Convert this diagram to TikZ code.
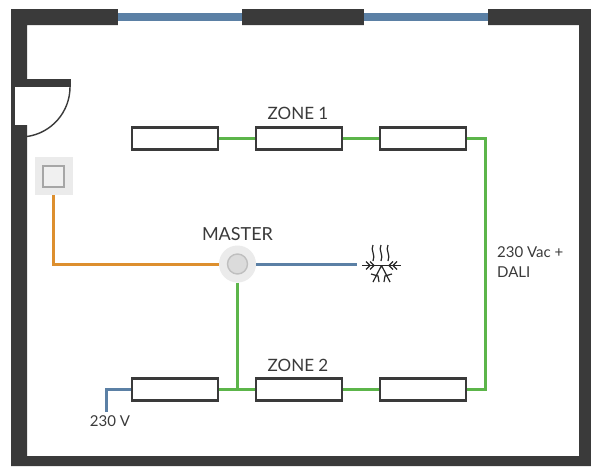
\documentclass[tikz,border=0pt]{standalone}
\usepackage{fontspec}
\setmainfont{Lato}
\definecolor{wallgrey}{HTML}{3A3A3A}
\definecolor{wireblue}{HTML}{5B80A5}
\definecolor{wiregreen}{HTML}{5CB54A}
\definecolor{wireorange}{HTML}{DD8F2E}
\tikzset{
    lamp/.style={rectangle, draw=wallgrey, fill=white, line width=2.2pt, minimum width=86pt, minimum height=22pt, inner sep=0pt},
    wire/.style={line width=3pt},
    label/.style={text=wallgrey, font=\fontsize{17}{20}\selectfont, inner sep=0pt},
    smalllabel/.style={text=wallgrey, font=\fontsize{15}{20}\selectfont, inner sep=0pt},
    frost/.style={line width=1.2pt, black!85},
}
\begin{document}
\begin{tikzpicture}[x=1pt, y=-1pt]
    \useasboundingbox (0, 0) rectangle (591, 466);
    \fill[white] (0, 0) rectangle (591, 466);
    % walls
    \fill[wallgrey, even odd rule] (11, 9) rectangle (591, 466) (27, 25) rectangle (579, 456);
    % windows
    \fill[white] (118, 8) rectangle (242, 26);
    \fill[white] (364, 8) rectangle (488, 26);
    \fill[wireblue] (118, 13) rectangle (242, 21);
    \fill[wireblue] (364, 13) rectangle (488, 21);
    % door
    \fill[white] (15, 87) rectangle (27.5, 125);
    \fill[wallgrey] (15, 79) rectangle (71, 87);
    \draw[wallgrey, line width=1.4pt] (70, 87) arc[start angle=0, end angle=82, radius=50];
    % switch
    \node[rectangle, fill=black!8, minimum size=38pt, inner sep=0pt] (switch) at (53.5, 176) {};
    \node[rectangle, draw=black!35, fill=black!6, line width=2pt, minimum size=21pt, inner sep=0pt] (switchkey) at (53.5, 176) {};
    % master
    \node[circle, fill=black!8, minimum size=37pt, inner sep=0pt] (master) at (237.5, 264) {};
    \node[circle, draw=black!25, fill=black!14, line width=1.4pt, minimum size=20pt, inner sep=0pt] (masterkey) at (237.5, 264) {};
    % lamps
    \node[lamp] (zoneAa) at (175, 138.5) {};
    \node[lamp] (zoneAb) at (299, 138.5) {};
    \node[lamp] (zoneAc) at (423, 138.5) {};
    \node[lamp] (zoneBa) at (175, 389.5) {};
    \node[lamp] (zoneBb) at (299, 389.5) {};
    \node[lamp] (zoneBc) at (423, 389.5) {};
    \coordinate (bend) at (485, 264);
    \coordinate (tee) at (237.5, 389.5);
    \coordinate (hvac) at (357, 264);
    \coordinate (mains) at (106, 412);
    % wires
    \draw[wire, wiregreen] (zoneAa) -- (zoneAb);
    \draw[wire, wiregreen] (zoneAb) -- (zoneAc);
    \draw[wire, wiregreen] (zoneBa) -- (zoneBb);
    \draw[wire, wiregreen] (zoneBb) -- (zoneBc);
    \draw[wire, wiregreen] (zoneAc) -| (bend) |- (zoneBc);
    \draw[wire, wiregreen] (master) -- (tee);
    \draw[wire, wireorange] (switch) |- (master);
    \draw[wire, wireblue] (master) -- (hvac);
    \draw[wire, wireblue] (zoneBa) -| (mains);
    % heating and cooling
    \draw[frost] (362, 265.5) -- (401, 265.5);
    \draw[frost] (381.5, 265.5) -- (373, 282) (381.5, 265.5) -- (390, 282);
    \draw[frost] (366, 261.5) -- (370, 265.5) -- (366, 269.5) (370, 261.5) -- (374, 265.5) -- (370, 269.5);
    \draw[frost] (397, 261.5) -- (393, 265.5) -- (397, 269.5) (393, 261.5) -- (389, 265.5) -- (393, 269.5);
    \draw[frost] (371, 274) -- (378, 276) -- (379, 282) (392, 274) -- (385, 276) -- (384, 282);
    \foreach \hx in {373, 381, 388} {
        \draw[frost] (\hx, 245) .. controls (\hx-3, 250) and (\hx+3, 255) .. (\hx, 261);
    }
    % texts
    \node[label] (zoneAlabel) at (298, 113) {ZONE 1};
    \node[label] (zoneBlabel) at (298, 365) {ZONE 2};
    \node[label, font=\fontsize{18}{20}\selectfont] (masterlabel) at (237.5, 234.5) {MASTER};
    \node[smalllabel, anchor=west, align=left] (buslabel) at (497, 262) {230 Vac +\\DALI};
    \node[smalllabel] (mainslabel) at (110, 421.5) {230 V};
\end{tikzpicture}
\end{document}
